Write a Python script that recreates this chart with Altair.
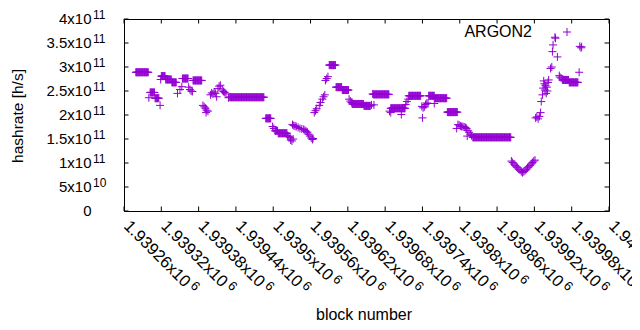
import altair as alt
import pandas as pd

# ---------------- data (hashrate in units of 1e9 h/s) ----------------
# runs of consecutive blocks sharing the same hashrate
run_start = [1939279, 1939302, 1939310, 1939320, 1939327, 1939337, 1939354, 1939371,
             1939430, 1939488, 1939503, 1939508, 1939590, 1939601, 1939611, 1939627,
             1939646, 1939661, 1939689, 1939718, 1939750, 1939760, 1939780, 1939821,
             1939965, 1939976]
run_end = [1939299, 1939309, 1939316, 1939326, 1939336, 1939344, 1939363, 1939385,
           1939485, 1939496, 1939507, 1939522, 1939600, 1939610, 1939621, 1939645,
           1939656, 1939686, 1939712, 1939737, 1939759, 1939779, 1939796, 1939882,
           1939975, 1939990]
run_value = [289, 247, 235, 281, 274, 268, 276, 272,
             237, 193, 167, 162, 304, 258, 252, 223,
             219, 243, 214, 240, 240, 235, 206, 153.5,
             273, 268]

# individual scattered blocks
pt_block = [1939300, 1939318, 1939319, 1939346, 1939350, 1939353, 1939364, 1939366,
            1939368, 1939370, 1939387, 1939389, 1939391, 1939392, 1939393, 1939395,
            1939399, 1939401, 1939403, 1939405, 1939407, 1939409, 1939411, 1939413,
            1939415, 1939418, 1939420, 1939422, 1939424, 1939428, 1939499, 1939501,
            1939523, 1939525, 1939527, 1939528, 1939530, 1939531, 1939532, 1939533,
            1939535, 1939537, 1939540, 1939543, 1939546, 1939549, 1939551, 1939553,
            1939555, 1939557, 1939559, 1939561, 1939563, 1939564, 1939566, 1939568,
            1939570, 1939574, 1939576, 1939579, 1939581, 1939583, 1939584, 1939586,
            1939588, 1939622, 1939624, 1939626, 1939658, 1939660, 1939662, 1939687,
            1939689, 1939706, 1939713, 1939715, 1939717, 1939739, 1939740, 1939741,
            1939743, 1939745, 1939747, 1939749, 1939759, 1939795, 1939797, 1939799,
            1939801, 1939803, 1939805, 1939807, 1939809, 1939811, 1939812, 1939813,
            1939815, 1939817, 1939819,
            1939883, 1939885, 1939887, 1939889, 1939891, 1939893, 1939895, 1939897,
            1939899, 1939901, 1939903, 1939905, 1939907, 1939909, 1939911, 1939913,
            1939915, 1939917, 1939919, 1939921,
            1939922, 1939924, 1939926, 1939928, 1939930, 1939931, 1939933, 1939934,
            1939935, 1939936, 1939937, 1939938, 1939939, 1939940, 1939941, 1939942,
            1939943, 1939946, 1939948, 1939949, 1939950, 1939953, 1939954, 1939957,
            1939960, 1939961, 1939963, 1939992, 1939993, 1939995, 1939996]
pt_value = [236, 220, 274, 245, 253, 259, 258, 253,
            250, 249, 220, 217, 214, 205, 210, 208,
            242, 246, 244, 248, 245, 238, 255, 260,
            262, 252, 249, 247, 244, 236, 176, 172,
            157, 155, 153, 148, 146, 180, 150, 178,
            177, 176, 174, 172, 171, 170, 168, 166,
            164, 160, 156, 152, 149, 151, 205, 209,
            213, 220, 226, 233, 238, 242, 272, 276,
            280, 233, 229, 226, 221, 244, 221, 208,
            205, 201, 222, 228, 233, 218, 194, 215,
            217, 222, 225, 224, 224, 172, 180, 179,
            177, 176, 176, 175, 174, 172, 156, 168,
            164, 160, 157,
            104, 101, 98, 95, 92, 90, 87, 85,
            82, 80, 82, 84, 87, 90, 92, 95,
            98, 101, 104, 106,
            194, 196, 192, 197, 205, 228, 242, 256,
            271, 265, 252, 261, 245, 258, 250, 268,
            273, 297, 300, 332, 346, 362, 360, 321,
            282, 279, 277, 289, 343, 340, 342]

series_name = "ARGON2"

x_ticks = [1939260, 1939320, 1939380, 1939440, 1939500, 1939560, 1939620,
           1939680, 1939740, 1939800, 1939860, 1939920, 1939980, 1940040]
x_tick_base = ["1.93926x10", "1.93932x10", "1.93938x10", "1.93944x10", "1.9395x10",
               "1.93956x10", "1.93962x10", "1.93968x10", "1.93974x10", "1.9398x10",
               "1.93986x10", "1.93992x10", "1.93998x10", "1.94004x10"]
x_tick_exp = ["6"] * len(x_ticks)

y_ticks = [0, 5e10, 1e11, 1.5e11, 2e11, 2.5e11, 3e11, 3.5e11, 4e11]
y_tick_base = ["0", "5x10", "1x10", "1.5x10", "2x10", "2.5x10", "3x10", "3.5x10", "4x10"]
y_tick_exp = ["", "10", "11", "11", "11", "11", "11", "11", "11"]

x_title = "block number"
y_title = "hashrate [h/s]"

# ---------------- styling / layout ----------------
W, H = 485, 192
XMIN, XMAX = 1939260, 1940040
YMIN, YMAX = 0, 4e11
COLOR = "#9400D3"
FONT = "Liberation Sans"
FS_Y = 15
FS_X = 16.5
FS_EXP_Y = 12
FS_EXP_X = 13
TICK = 4.5
PLUS = "M-1,0L1,0M0,-1L0,1"

rows = []
for s, e, v in zip(run_start, run_end, run_value):
    for b in range(s, e + 1):
        rows.append((b, v * 1e9))
for b, v in zip(pt_block, pt_value):
    rows.append((b, v * 1e9))
df = pd.DataFrame(rows, columns=["block", "hashrate"])

xs = alt.Scale(domain=[XMIN, XMAX], nice=False, zero=False)
ys = alt.Scale(domain=[YMIN, YMAX], nice=False, zero=False)

points = alt.Chart(df).mark_point(
    shape=PLUS, size=64, filled=False, color=COLOR, strokeWidth=1, opacity=1
).encode(
    x=alt.X("block:Q", scale=xs, axis=None),
    y=alt.Y("hashrate:Q", scale=ys, axis=None),
)

xt = pd.DataFrame({"x": x_ticks, "base": x_tick_base, "exp": x_tick_exp})
yt = pd.DataFrame({"y": y_ticks, "base": y_tick_base, "exp": y_tick_exp})

xtick_bottom = alt.Chart(xt).mark_rule(color="black", strokeWidth=1).encode(
    x=alt.X("x:Q", scale=xs, axis=None), y=alt.value(H - TICK), y2=alt.value(H))
xtick_top = alt.Chart(xt).mark_rule(color="black", strokeWidth=1).encode(
    x=alt.X("x:Q", scale=xs, axis=None), y=alt.value(0), y2=alt.value(TICK))
ytick_left = alt.Chart(yt).mark_rule(color="black", strokeWidth=1).encode(
    y=alt.Y("y:Q", scale=ys, axis=None), x=alt.value(0), x2=alt.value(TICK))
ytick_right = alt.Chart(yt).mark_rule(color="black", strokeWidth=1).encode(
    y=alt.Y("y:Q", scale=ys, axis=None), x=alt.value(W - TICK), x2=alt.value(W))

# y tick labels
ylab_base = alt.Chart(yt).mark_text(
    align="right", baseline="middle", font=FONT, fontSize=FS_Y, color="black", dx=-32.5
).encode(y=alt.Y("y:Q", scale=ys, axis=None), x=alt.value(0), text="base:N")
ylab_exp = alt.Chart(yt).mark_text(
    align="left", baseline="middle", font=FONT, fontSize=FS_EXP_Y, color="black", dx=-31, dy=-4.5
).encode(y=alt.Y("y:Q", scale=ys, axis=None), x=alt.value(0), text="exp:N")

# x tick labels (rotated); exponent placed after the base text along the baseline
CW = {"0": .556, "1": .556, "2": .556, "3": .556, "4": .556, "5": .556, "6": .556,
      "7": .556, "8": .556, "9": .556, ".": .278, "x": .5}
ANCH_Y = 16      # pixels below the plot bottom
ANCH_DX = -1
GAP = 3.0
RAISE = 5.0
bpp = (XMAX - XMIN) / W       # blocks per pixel
vpp = (YMAX - YMIN) / H       # value per pixel
c45 = 0.7071
ex_x, ex_y = [], []
for t, s in zip(x_ticks, x_tick_base):
    wpx = sum(CW.get(ch, .556) for ch in s) * FS_X
    along = wpx + GAP
    dxs = ANCH_DX + along * c45 + RAISE * c45
    dys = ANCH_Y + along * c45 - RAISE * c45
    ex_x.append(t + dxs * bpp)
    ex_y.append(-dys * vpp)
xt["ex"] = ex_x
xt["ey"] = ex_y

xlab_base = alt.Chart(xt).mark_text(
    align="left", baseline="alphabetic", angle=45, font=FONT, fontSize=FS_X,
    color="black", dx=0, dy=0
).encode(
    x=alt.X("x:Q", scale=xs, axis=None),
    y=alt.value(H + ANCH_Y),
    xOffset=alt.value(ANCH_DX),
    text="base:N",
)
xlab_exp = alt.Chart(xt).mark_text(
    align="left", baseline="alphabetic", angle=45, font=FONT, fontSize=FS_EXP_X, color="black"
).encode(
    x=alt.X("ex:Q", scale=xs, axis=None),
    y=alt.Y("ey:Q", scale=ys, axis=None),
    text="exp:N",
)

titles = pd.DataFrame({"t": [x_title, y_title, series_name]})
xtitle = alt.Chart(titles).transform_filter(alt.datum.t == x_title).mark_text(
    font=FONT, fontSize=16, color="black", align="center", baseline="middle"
).encode(x=alt.value(240), y=alt.value(296), text="t:N")
ytitle = alt.Chart(titles).transform_filter(alt.datum.t == y_title).mark_text(
    font=FONT, fontSize=15.5, color="black", align="center", baseline="middle", angle=270
).encode(x=alt.value(-106), y=alt.value(97), text="t:N")
key_text = alt.Chart(titles).transform_filter(alt.datum.t == series_name).mark_text(
    font=FONT, fontSize=16, color="black", align="right", baseline="middle"
).encode(x=alt.value(408), y=alt.value(13), text="t:N")
key_sample = alt.Chart(titles).transform_filter(alt.datum.t == series_name).mark_point(
    shape=PLUS, size=64, filled=False, color=COLOR, strokeWidth=1, opacity=1
).encode(x=alt.value(443), y=alt.value(13))

chart = alt.layer(
    points, xtick_bottom, xtick_top, ytick_left, ytick_right,
    ylab_base, ylab_exp, xlab_base, xlab_exp, xtitle, ytitle, key_text, key_sample
).properties(
    width=W, height=H,
    autosize=alt.AutoSizeParams(type="none"),
    padding={"left": 116, "top": 11, "right": 23, "bottom": 113},
    background="white",
).configure_view(stroke="black", strokeWidth=1)

chart.save("out.html", embed_options={"renderer": "svg", "actions": False})
